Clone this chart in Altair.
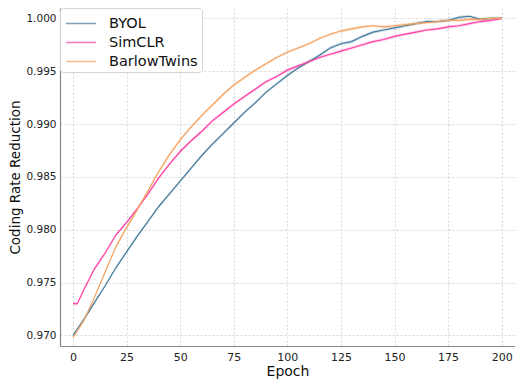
import altair as alt
import pandas as pd

series_names = ["BYOL", "SimCLR", "BarlowTwins"]
colors = ["#457b9d", "#ff3fa4", "#f4a261"]

byol_epochs = list(range(0, 201, 5))
byol = [0.9700, 0.9715, 0.9731, 0.9747, 0.9764, 0.9779, 0.9794, 0.9808, 0.9822, 0.9834,
        0.9846, 0.9858, 0.9870, 0.9881, 0.9891, 0.9901, 0.9911, 0.9920, 0.9930, 0.9938,
        0.9946, 0.9953, 0.9959, 0.9965, 0.9972, 0.9976, 0.9978, 0.9983, 0.9987, 0.9989,
        0.9991, 0.9993, 0.9995, 0.9997, 0.9997, 0.9998, 1.0001, 1.0002, 0.9999, 1.0000,
        1.0000]

simclr_epochs = [0, 2] + list(range(5, 201, 5))
simclr = [0.9730, 0.9730, 0.9743, 0.9763, 0.9778, 0.9795, 0.9807, 0.9820, 0.9834, 0.9849,
          0.9862, 0.9874, 0.9884, 0.9893, 0.9903, 0.9911, 0.9919, 0.9926, 0.9933, 0.9940,
          0.9945, 0.9951, 0.9955, 0.9959, 0.9963, 0.9966, 0.9969, 0.9972, 0.9975, 0.9978,
          0.9980, 0.9983, 0.9985, 0.9987, 0.9989, 0.9990, 0.9992, 0.9993, 0.9995, 0.9997,
          0.9998, 1.0000]

barlow_epochs = list(range(0, 201, 5))
barlow = [0.9698, 0.9714, 0.9736, 0.9760, 0.9784, 0.9802, 0.9819, 0.9837, 0.9855, 0.9871,
          0.9885, 0.9897, 0.9908, 0.9918, 0.9928, 0.9937, 0.9944, 0.9951, 0.9957, 0.9963,
          0.9968, 0.9972, 0.9976, 0.9981, 0.9985, 0.9988, 0.9990, 0.9992, 0.9993, 0.9992,
          0.9993, 0.9994, 0.9995, 0.9996, 0.9997, 0.9998, 0.9998, 0.9999, 0.9999, 1.0000,
          1.0000]

band_halfwidth = [0.00015, 0.00015, 0.00015]

x_ticks = [0, 25, 50, 75, 100, 125, 150, 175, 200]
y_ticks = [0.970, 0.975, 0.980, 0.985, 0.990, 0.995, 1.000]

rows = []
for name, eps, vals, hw in zip(series_names, [byol_epochs, simclr_epochs, barlow_epochs],
                               [byol, simclr, barlow], band_halfwidth):
    for e, v in zip(eps, vals):
        rows.append({"epoch": e, "value": v, "lo": v - hw, "hi": v + hw, "series": name})
df = pd.DataFrame(rows)

FONT = "DejaVu Sans"
legend = alt.Legend(title=None, orient="none", legendX=0, legendY=0,
                    symbolType="M-0.9,0H1.95", symbolSize=441, symbolStrokeWidth=1.5,
                    symbolOpacity=0.7,
                    labelFontSize=14.5, labelFont=FONT, labelColor="#111111",
                    labelOffset=22, rowPadding=1,
                    fillColor="white", strokeColor="#d5d5d5", padding=4,
                    cornerRadius=3)
cscale = alt.Scale(domain=series_names, range=colors)
color = alt.Color("series:N", scale=cscale, sort=series_names, legend=legend)

x = alt.X("epoch:Q", scale=alt.Scale(domain=[-6.07, 206.2], nice=False, zero=False),
          axis=alt.Axis(values=x_ticks, title="Epoch", ticks=False, labelPadding=5,
                        labelFontSize=11, titleFontSize=14, titleFontWeight="normal",
                        titlePadding=2))
y = alt.Y("value:Q", scale=alt.Scale(domain=[0.9690, 1.00098], nice=False, zero=False),
          axis=alt.Axis(values=y_ticks, format=".3f", title="Coding Rate Reduction",
                        ticks=False, labelPadding=4, labelFontSize=10.5,
                        titleFontSize=13.5, titleFontWeight="normal", titlePadding=3))

base = alt.Chart(df)
band = base.mark_area(opacity=0.22).encode(x=x, y="lo:Q", y2="hi:Q", color=color,
                                            detail="series:N")
lines = base.mark_line(strokeWidth=1.2).encode(x=x, y=y, color=color, order="epoch:Q")

chart = alt.layer(band, lines).properties(
    width=455, height=338,
    autosize=alt.AutoSizeParams(type="none"),
    padding={"left": 52, "top": 0, "right": 0, "bottom": 34},
).configure_axis(
    labelFont=FONT, titleFont=FONT, labelColor="#222222", titleColor="#111111",
    domainColor="#888888", domainWidth=1.2,
    gridColor="#cccccc", gridDash=[2, 2], gridWidth=0.8,
).configure_view(stroke=None)

chart.save("out.html", embed_options={"renderer": "svg", "actions": False})
